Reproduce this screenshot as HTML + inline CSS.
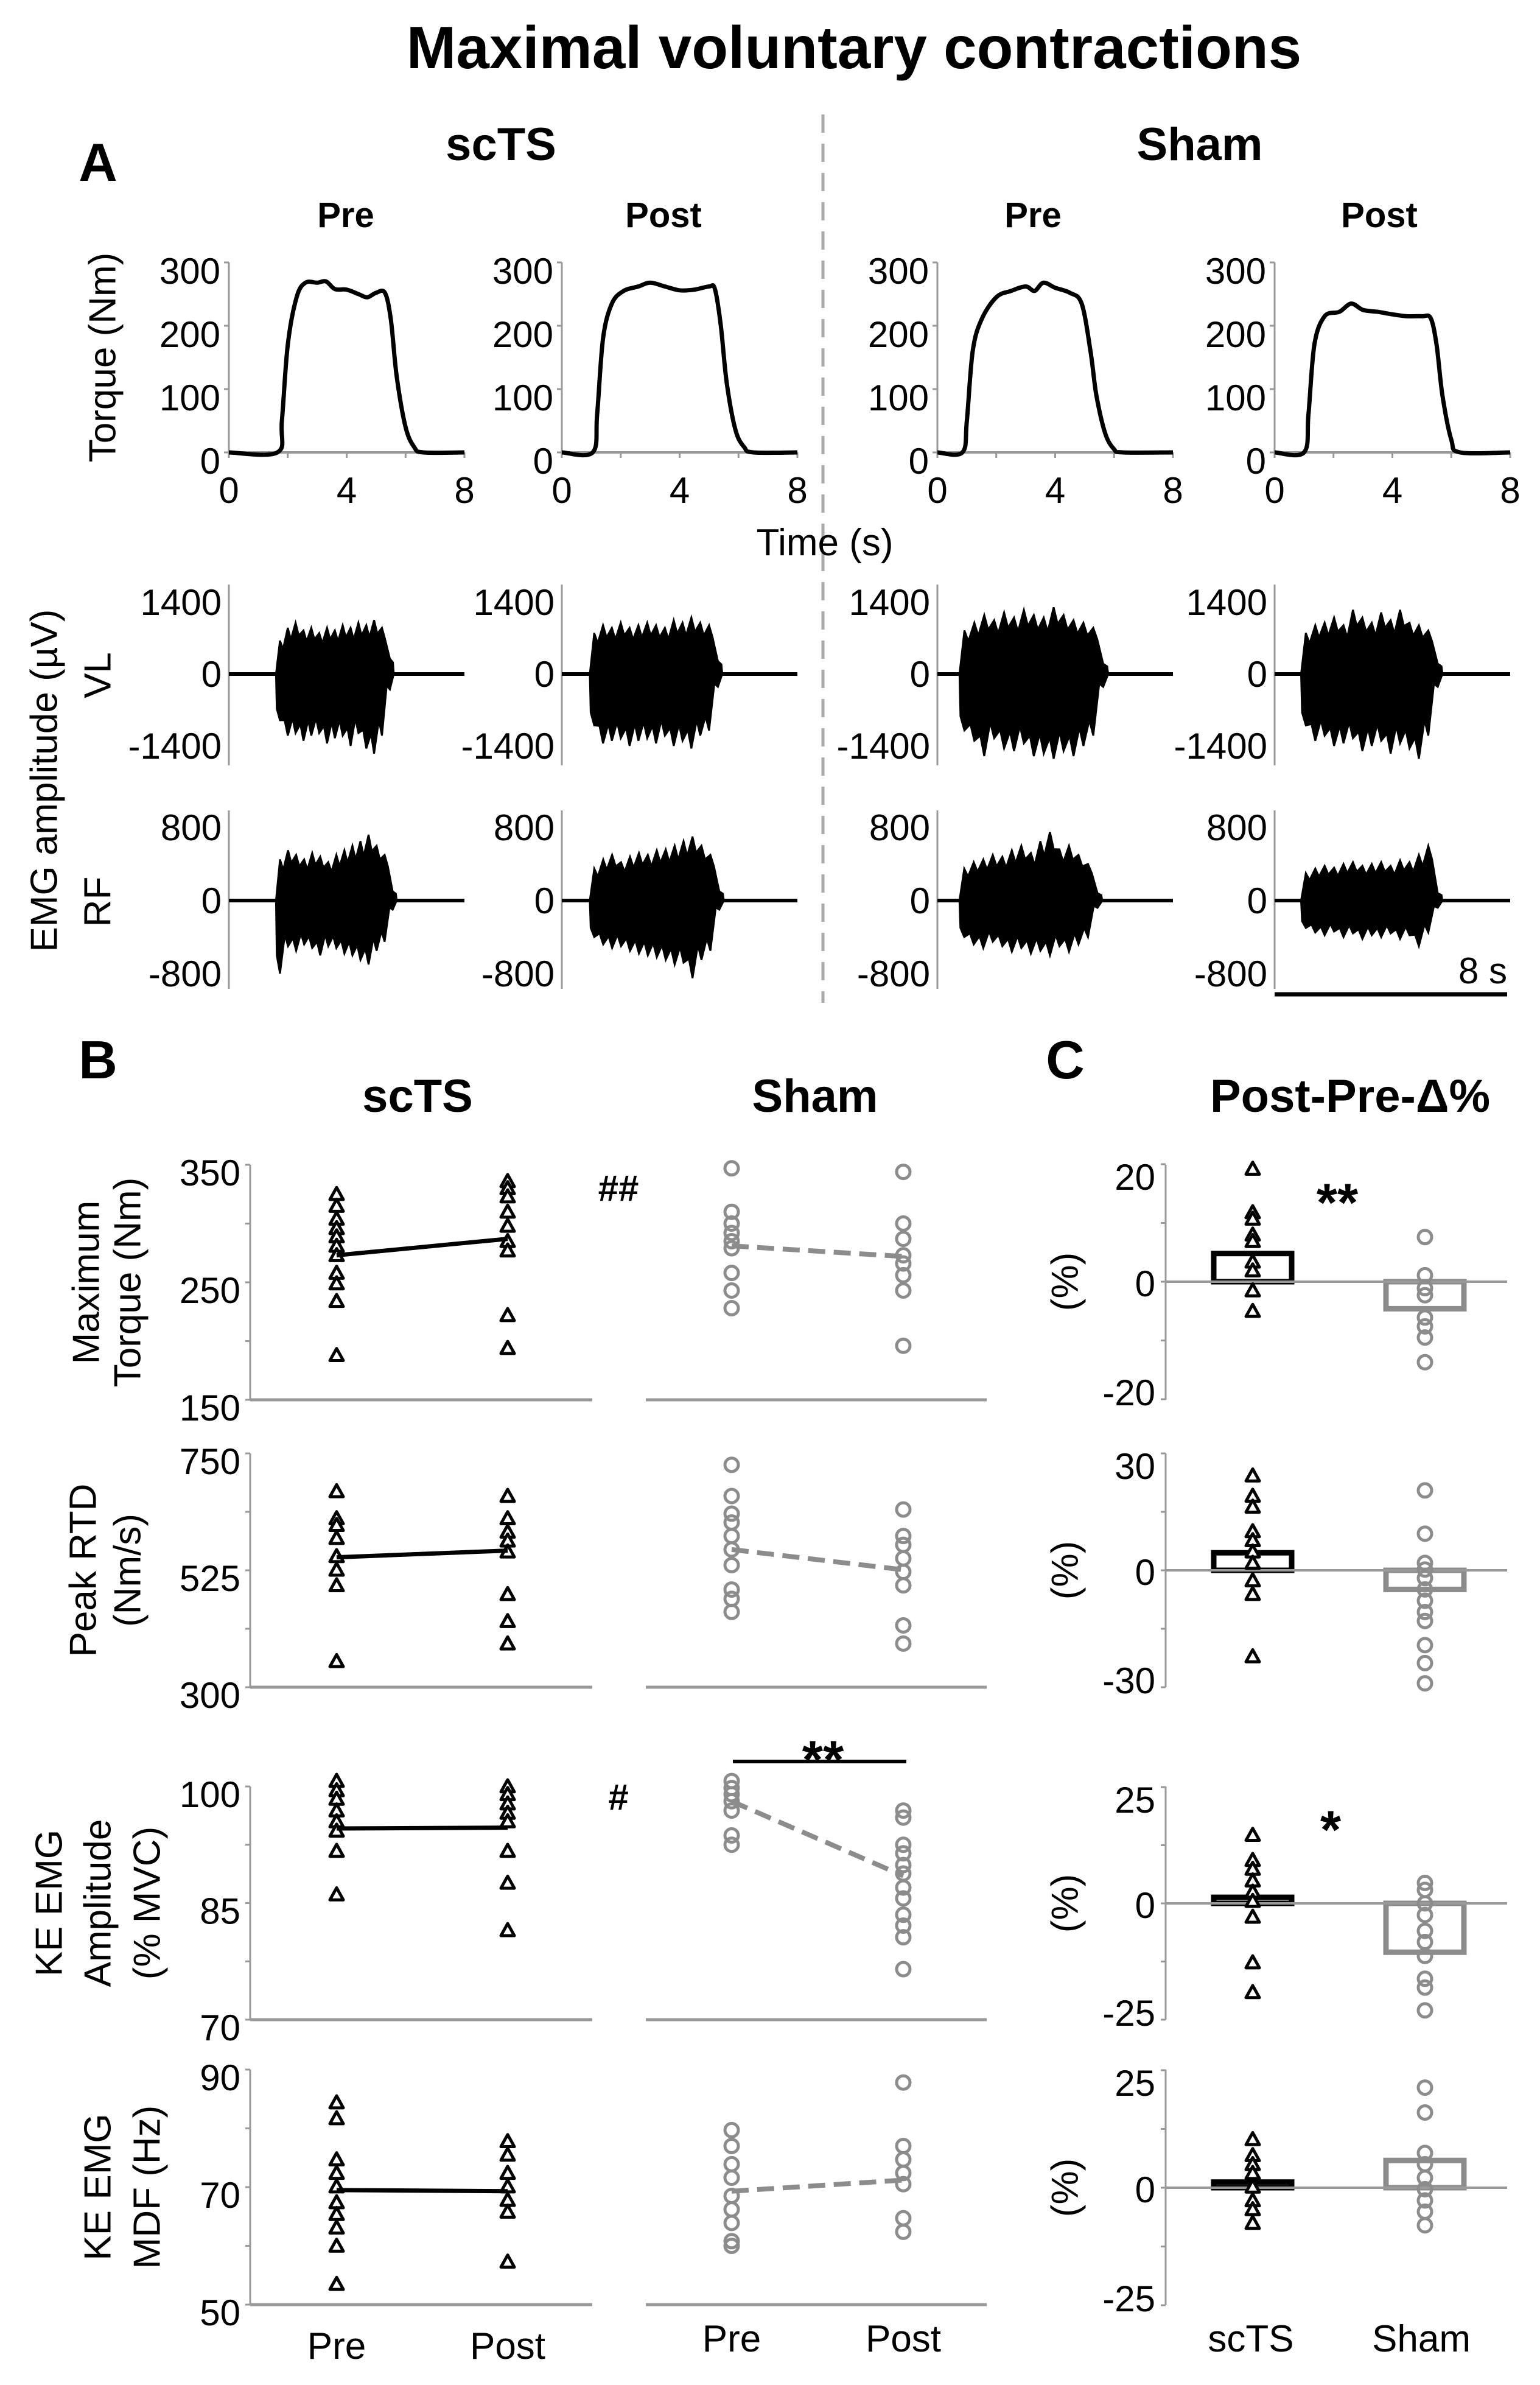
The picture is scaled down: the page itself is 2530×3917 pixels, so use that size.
<!DOCTYPE html>
<html><head><meta charset="utf-8">
<style>
html,body{margin:0;padding:0;background:#fff;}
svg{display:block;font-family:"Liberation Sans",Arial,sans-serif;}
</style></head>
<body>
<svg id="chart" xmlns="http://www.w3.org/2000/svg" width="2530" height="3917" viewBox="0 0 2530 3917">
<rect x="0" y="0" width="2530" height="3917" fill="#fff"/>
</svg>
<script>
// ---------- DATA ----------
const tq1T=[0,1.65,1.8,2.0,2.3,2.6,3.0,3.3,3.6,4.0,4.4,4.7,5.0,5.3,5.5,5.7,6.0,6.3,6.6,8];
const tq1V=[0,0,50,170,245,268,268,270,258,257,250,245,252,252,210,120,40,8,0,0];
const tq2T=[0,1.05,1.2,1.4,1.7,2.1,2.6,3.0,3.5,4.0,4.5,5.0,5.2,5.4,5.6,5.9,6.2,6.5,8];
const tq2V=[0,0,60,180,235,255,262,268,262,256,257,262,258,200,110,35,8,0,0];
const tq3T=[0,0.85,1.0,1.2,1.5,2.0,2.5,3.0,3.3,3.6,4.0,4.5,4.9,5.2,5.4,5.7,6.0,6.3,8];
const tq3V=[0,0,50,160,210,245,255,262,255,268,260,252,235,160,90,30,5,0,0];
const tq4T=[0,1.0,1.15,1.35,1.7,2.2,2.6,3.0,3.5,4.0,4.5,5.0,5.3,5.5,5.7,6.0,6.3,8];
const tq4V=[0,0,60,170,215,222,235,225,222,218,215,215,212,170,90,20,0,0];
const vlStart=[1.6,0.95,0.75,0.9];
const vlEnd=[5.6,5.45,5.8,5.7];
const vlUp1=[650,900,1000,850,900,800,900,850,950,900,1000,950,1050,900,300];
const vlDn1=[-900,-1200,-1150,-1300,-1200,-1150,-1350,-1250,-1200,-1400,-1150,-1450,-1550,-1200,-300];
const vlUp2=[800,950,900,1000,900,950,1000,950,900,1050,1000,1100,1000,950,250];
const vlDn2=[-1000,-1350,-1300,-1250,-1400,-1300,-1250,-1350,-1200,-1400,-1300,-1450,-1200,-1100,-250];
const vlUp3=[850,1000,1150,1050,1200,1100,1250,1150,1100,1300,1150,1050,1000,900,200];
const vlDn3=[-1100,-1300,-1600,-1250,-1450,-1500,-1350,-1600,-1550,-1650,-1500,-1600,-1400,-1200,-250];
const vlUp4=[800,950,1000,1100,950,1250,1100,1000,1200,1050,1250,1000,950,850,200];
const vlDn4=[-1000,-1300,-1200,-1400,-1350,-1250,-1500,-1400,-1300,-1550,-1350,-1450,-1650,-1200,-250];
const rfStart=[1.6,0.95,0.75,0.9];
const rfEnd=[5.7,5.5,5.6,5.7];
const rfUp1=[450,550,500,450,520,480,420,500,550,600,650,720,600,500,100];
const rfDn1=[-800,-500,-550,-480,-520,-600,-500,-520,-580,-600,-650,-700,-550,-450,-100];
const rfUp2=[350,450,500,420,480,520,500,550,560,600,650,700,600,500,100];
const rfDn2=[-400,-480,-520,-500,-550,-580,-600,-620,-650,-700,-680,-850,-650,-550,-100];
const rfUp3=[350,420,450,500,480,550,600,520,650,750,560,600,500,400,80];
const rfDn3=[-400,-480,-520,-450,-500,-560,-520,-580,-550,-600,-500,-560,-480,-400,-80];
const rfUp4=[300,350,380,360,400,420,380,400,420,380,440,420,500,600,80];
const rfDn4=[-300,-350,-380,-340,-400,-360,-420,-380,-400,-360,-420,-380,-500,-350,-80];
const torqueScPre=[325,315,304,296,289,281,273,258,249,234,188];
const torqueScPost=[336,330,323,310,298,285,277,222,194];
const torqueShPre=[347,310,300,292,285,279,258,243,228];
const torqueShPost=[344,300,287,273,266,256,243,196];
const torqueMeans=[273,287,281,272];
const rtdScPre=[677,625,612,587,552,526,496,350];
const rtdScPost=[668,625,599,582,561,479,427,384];
const rtdShPre=[728,668,634,617,591,565,535,488,470,445];
const rtdShPost=[642,591,574,548,522,496,419,384];
const rtdMeans=[550,563,565,526];
const ampScPre=[100.7,99.5,98.4,96.9,95.5,94.3,91.7,86.1];
const ampScPost=[100,99,97.8,96.6,95.5,91.7,87.6,81.5];
const ampShPre=[100.7,99.8,99,98.1,96.9,93.7,92.5];
const ampShPost=[96.9,96,92.5,91.4,89.9,88.8,87,85.6,83.5,82.1,80.6,76.5];
const ampMeans=[94.6,94.7,98.1,88.5];
const mdfScPre=[84.4,81.7,74.7,72.4,70.1,67.4,65.4,63.1,60,53.5];
const mdfScPost=[77.8,75.5,72.4,70.1,67.8,65.8,57.3];
const mdfShPre=[79.7,77,73.9,71.6,68.5,66.2,63.9,60.8,60];
const mdfShPost=[87.8,77,74.7,72.4,70.5,64.7,62.4];
const mdfMeans=[69.5,69.3,69.3,71.2];
const dTorqueSc=[19.2,11.8,10.7,8,6.9,3.4,1.9,-1.5,-5];
const dTorqueSh=[7.6,1.1,-1.1,-2.3,-6.1,-7.6,-9.5,-13.7];
const dRtdSc=[24.3,19.1,16.3,10,7.7,4.8,1.9,-2.6,-6.1,-22.1];
const dRtdSh=[20.5,9.4,1.9,0.2,-2,-4.9,-7.8,-10.7,-13,-19.2,-23.8,-29];
const dAmpSc=[14.7,9.3,7.4,4.9,2.5,0.5,-2.9,-12.7,-19.1];
const dAmpSh=[4.4,2.9,0,-2.5,-5.9,-8.3,-11.3,-16.2,-18.1,-23];
const dMdfSc=[10.3,6.9,5,3.1,0.2,-2.7,-4.6,-7.5];
const dMdfSh=[21.3,16,7.4,5,2.1,-0.3,-2.7,-5.1,-8];
const barMeansTorque=[4.8,-4.6];
const barMeansRtd=[4.5,-4.9];
const barMeansAmp=[1.3,-10.5];
const barMeansMdf=[1.2,5.8];
const torqueTicks=[0,100,200,300];
const timeTicks=[0,4,8];
const vlTicks=[1400,0,-1400];
const rfTicks=[800,0,-800];

// ---------- helpers ----------
const NS='http://www.w3.org/2000/svg';
const svg=document.getElementById('chart');
const GRAY='#8c8c8c', AX='#999';
function mk(tag,attrs,parent){const e=document.createElementNS(NS,tag);for(const k in attrs)e.setAttribute(k,attrs[k]);(parent||svg).appendChild(e);return e;}
function tx(str,x,y,size,weight,anchor,parent){const e=mk('text',{x:x,y:y,'font-size':size,'font-weight':weight||'normal','text-anchor':anchor||'middle',fill:'#000'},parent);e.textContent=str;return e;}
function rtx(str,x,y,size,parent){const e=mk('text',{x:0,y:0,'font-size':size,'text-anchor':'middle','dominant-baseline':'central',transform:'translate('+x+','+y+') rotate(-90)',fill:'#000'},parent);e.textContent=str;return e;}
function smoothPath(pts){
  let d='M'+pts[0][0].toFixed(1)+','+pts[0][1].toFixed(1);
  for(let i=0;i<pts.length-1;i++){
    const p0=pts[Math.max(i-1,0)],p1=pts[i],p2=pts[i+1],p3=pts[Math.min(i+2,pts.length-1)];
    const c1=[p1[0]+(p2[0]-p0[0])/6,p1[1]+(p2[1]-p0[1])/6];
    const c2=[p2[0]-(p3[0]-p1[0])/6,p2[1]-(p3[1]-p1[1])/6];
    d+='C'+c1[0].toFixed(1)+','+c1[1].toFixed(1)+' '+c2[0].toFixed(1)+','+c2[1].toFixed(1)+' '+p2[0].toFixed(1)+','+p2[1].toFixed(1);
  }
  return d;
}
let e;

// ---------- titles ----------
e=tx('Maximal voluntary contractions',1403,112,98,'bold');


e=tx('A',161,297,88,'bold');


e=tx('scTS',823,263,76,'bold');


e=tx('Sham',1971,263,76,'bold');


const prePostX=[568,1090,1697,2266];
const prePostT=['Pre','Post','Pre','Post'];
for(let i=0;i<4;i++){
  e=tx(prePostT[i],prePostX[i],373,58,'bold');
  
  
}
e=mk('line',{x1:1352,y1:188,x2:1352,y2:1647,stroke:'#aaa','stroke-width':5,'stroke-dasharray':'30,18'});



// ---------- Panel A torque ----------
const px0=[376,923,1540,2094];
const PW=387;
function tX(p,t){return px0[p]+t/8*PW;}
function tqY(v){return 743-v*312/300;}
const tqT=[tq1T,tq2T,tq3T,tq4T], tqV=[tq1V,tq2V,tq3V,tq4V];
for(let p=0;p<4;p++){
  const g=mk('g',{});
  
  
  e=mk('line',{x1:px0[p],y1:tqY(300),x2:px0[p],y2:743,stroke:AX,'stroke-width':3},g);
  
  
  torqueTicks.forEach(v=>{
    e=mk('line',{x1:px0[p]-8,y1:tqY(v),x2:px0[p],y2:tqY(v),stroke:AX,'stroke-width':3},g);
    
    
    e=tx(String(v),px0[p]-14,tqY(v)+35,60,'normal','end',g);
    
    
  });
  e=mk('line',{x1:px0[p],y1:743,x2:px0[p]+PW,y2:743,stroke:AX,'stroke-width':4},g);
  
  
  for(let t=0;t<=8;t+=2){
    e=mk('line',{x1:tX(p,t),y1:743,x2:tX(p,t),y2:752,stroke:AX,'stroke-width':3},g);
    
    
  }
  timeTicks.forEach(t=>{
    e=tx(String(t),tX(p,t),826,60,'normal','middle',g);
    
    
  });
  const pts=tqT[p].map((t,i)=>[tX(p,t),tqY(tqV[p][i])]);
  e=mk('path',{d:smoothPath(pts),fill:'none',stroke:'#000','stroke-width':7,'stroke-linejoin':'round'},g);
  
  
}
e=rtx('Torque (Nm)',169,587,62);


e=tx('Time (s)',1355,912,62);



// ---------- EMG ----------
function drawEmg(p,zeroY,scale,axTop,axBot,ticks,tStart,tEnd,up,dn,name){
  const g=mk('g',{});
  
  
  e=mk('line',{x1:px0[p],y1:axTop,x2:px0[p],y2:axBot,stroke:AX,'stroke-width':3},g);
  
  
  ticks.forEach(v=>{
    e=tx(String(v),px0[p]-12,zeroY-v*scale+21,60,'normal','end',g);
    
    
  });
  e=mk('line',{x1:px0[p],y1:zeroY,x2:px0[p]+PW,y2:zeroY,stroke:'#000','stroke-width':6},g);
  
  
  const n=up.length;
  let pts=[[tX(p,tStart),zeroY]];
  for(let i=0;i<n;i++){
    const t=tStart+(i+0.5)/n*(tEnd-tStart);
    const t2=tStart+(i+0.9)/n*(tEnd-tStart);
    pts.push([tX(p,t),zeroY-up[i]*scale]);
    pts.push([tX(p,t2),zeroY-up[i]*0.75*scale]);
  }
  pts.push([tX(p,tEnd),zeroY]);
  for(let i=n-1;i>=0;i--){
    const t=tStart+(i+0.5)/n*(tEnd-tStart);
    const t2=tStart+(i+0.1)/n*(tEnd-tStart);
    pts.push([tX(p,t),zeroY-dn[i]*scale]);
    pts.push([tX(p,t2),zeroY-dn[i]*0.75*scale]);
  }
  e=mk('polygon',{points:pts.map(q=>q[0].toFixed(1)+','+q[1].toFixed(1)).join(' '),fill:'#000',stroke:'#000','stroke-width':3},g);
  
  
}
const vlUps=[vlUp1,vlUp2,vlUp3,vlUp4], vlDns=[vlDn1,vlDn2,vlDn3,vlDn4];
const rfUps=[rfUp1,rfUp2,rfUp3,rfUp4], rfDns=[rfDn1,rfDn2,rfDn3,rfDn4];
for(let p=0;p<4;p++){
  drawEmg(p,1107,118/1400,960,1257,vlTicks,vlStart[p],vlEnd[p],vlUps[p],vlDns[p],'vl');
  drawEmg(p,1479,120/800,1331,1624,rfTicks,rfStart[p],rfEnd[p],rfUps[p],rfDns[p],'rf');
}
e=rtx('EMG amplitude (µV)',73,1282,62);


e=rtx('VL',161,1109,62);


e=rtx('RF',161,1481,62);


e=mk('line',{x1:2094,y1:1633,x2:2476,y2:1633,stroke:'#000','stroke-width':7});


e=tx('8 s',2436,1615,60);



// ---------- Panel B ----------
e=tx('B',161,1771,88,'bold');


e=tx('C',1750,1771,88,'bold');


e=tx('scTS',686,1826,76,'bold');


e=tx('Sham',1339,1826,76,'bold');


e=tx('Post-Pre-Δ%',2218,1826,76,'bold');



const BX=[553,834,1202,1484];
function tri(x,y,g){
  const s=11;
  e=mk('polygon',{points:(x)+','+(y-s)+' '+(x+s)+','+(y+s*0.8)+' '+(x-s)+','+(y+s*0.8),fill:'#fff',stroke:'#000','stroke-width':5,'stroke-linejoin':'round'},g);
  
  
}
function circ(x,y,g){
  e=mk('circle',{cx:x,cy:y,r:11,fill:'none',stroke:GRAY,'stroke-width':5},g);
  
  
}
function drawB(cfg){
  const yv=v=>cfg.yTop+(cfg.max-v)/(cfg.max-cfg.min)*(cfg.yBot-cfg.yTop);
  const g=mk('g',{});
  
  
  e=mk('line',{x1:411,y1:cfg.yTop,x2:411,y2:cfg.yBot,stroke:AX,'stroke-width':3},g);
  
  
  cfg.minor.forEach(v=>{
    e=mk('line',{x1:403,y1:yv(v),x2:411,y2:yv(v),stroke:AX,'stroke-width':3},g);
    
    
  });
  cfg.labels.forEach(v=>{
    e=tx(String(v),395,yv(v)+34,60,'normal','end',g);
    
    
  });
  e=mk('line',{x1:411,y1:cfg.yBot,x2:973,y2:cfg.yBot,stroke:AX,'stroke-width':5},g);
  
  
  e=mk('line',{x1:1061,y1:cfg.yBot,x2:1621,y2:cfg.yBot,stroke:AX,'stroke-width':5},g);
  
  
  cfg.scPre.forEach(v=>tri(BX[0],yv(v),g));
  cfg.scPost.forEach(v=>tri(BX[1],yv(v),g));
  cfg.shPre.forEach(v=>circ(BX[2],yv(v),g));
  cfg.shPost.forEach(v=>circ(BX[3],yv(v),g));
  e=mk('line',{x1:BX[0],y1:yv(cfg.means[0]),x2:BX[1],y2:yv(cfg.means[1]),stroke:'#000','stroke-width':7},g);
  
  
  e=mk('line',{x1:BX[2],y1:yv(cfg.means[2]),x2:BX[3],y2:yv(cfg.means[3]),stroke:GRAY,'stroke-width':8,'stroke-dasharray':'28,14'},g);
  
  
  cfg.title.forEach((s,i)=>{
    e=rtx(s,cfg.titleX[i],(cfg.yTop+cfg.yBot)/2,62,g);
    
    
  });
}
drawB({name:'torque',yTop:1913,yBot:2299,min:150,max:350,minor:[150,200,250,300,350],labels:[150,250,350],
  scPre:torqueScPre,scPost:torqueScPost,shPre:torqueShPre,shPost:torqueShPost,means:torqueMeans,title:['Maximum','Torque (Nm)'],titleX:[142,210]});
drawB({name:'rtd',yTop:2387,yBot:2771,min:300,max:750,minor:[300,412.5,525,637.5,750],labels:[300,525,750],
  scPre:rtdScPre,scPost:rtdScPost,shPre:rtdShPre,shPost:rtdShPost,means:rtdMeans,title:['Peak RTD','(Nm/s)'],titleX:[137,210]});
drawB({name:'emg-amplitude',yTop:2934,yBot:3317,min:70,max:100,minor:[70,77.5,85,92.5,100],labels:[70,85,100],
  scPre:ampScPre,scPost:ampScPost,shPre:ampShPre,shPost:ampShPost,means:ampMeans,title:['KE EMG','Amplitude','(% MVC)'],titleX:[81,161,242]});
drawB({name:'emg-mdf',yTop:3399,yBot:3785,min:50,max:90,minor:[50,60,70,80,90],labels:[50,70,90],
  scPre:mdfScPre,scPost:mdfScPost,shPre:mdfShPre,shPost:mdfShPost,means:mdfMeans,title:['KE EMG','MDF (Hz)'],titleX:[161,242]});

const xl=[['Pre',553,3874],['Post',834,3874],['Pre',1202,3862],['Post',1484,3862]];
xl.forEach(a=>{
  e=tx(a[0],a[1],a[2],62);
  
  
});
e=tx('##',1016,1972,60,'bold');


e=tx('#',1016,2972,60,'bold');


e=mk('line',{x1:1204,y1:2893,x2:1489,y2:2893,stroke:'#000','stroke-width':6});


e=tx('**',1352,2920,88,'bold');



// ---------- Panel C ----------
const CX=[2058,2341];
function drawC(cfg){
  const yv=v=>cfg.y0-v*cfg.s;
  const g=mk('g',{});
  
  
  e=mk('line',{x1:1915,y1:cfg.top,x2:1915,y2:cfg.bot,stroke:AX,'stroke-width':3},g);
  
  
  cfg.minor.forEach(v=>{
    e=mk('line',{x1:1907,y1:yv(v),x2:1915,y2:yv(v),stroke:AX,'stroke-width':3},g);
    
    
  });
  cfg.labels.forEach(v=>{
    e=tx(String(v),1898,yv(v)+(v>0?42:v<0?10:24),60,'normal','end',g);
    
    
  });
  e=rtx('(%)',1750,cfg.y0,62,g);
  
  
  [0,1].forEach(k=>{
    const v=cfg.bars[k];
    const y1=Math.min(yv(0),yv(v)), h=Math.abs(yv(v)-yv(0));
    e=mk('rect',{x:CX[k]-64,y:y1,width:128,height:Math.max(h,2),fill:'#fff',stroke:k?GRAY:'#000','stroke-width':9},g);
    
    
  });
  e=mk('line',{x1:1915,y1:cfg.y0,x2:2476,y2:cfg.y0,stroke:AX,'stroke-width':4},g);
  
  
  cfg.sc.forEach(v=>tri(CX[0],yv(v),g));
  cfg.sh.forEach(v=>circ(CX[1],yv(v),g));
}
drawC({name:'torque',y0:2105,s:193/20,top:1913,bot:2299,minor:[-20,-10,0,10,20],labels:[-20,0,20],sc:dTorqueSc,sh:dTorqueSh,bars:barMeansTorque});
drawC({name:'rtd',y0:2579,s:192/30,top:2387,bot:2771,minor:[-30,-15,0,15,30],labels:[-30,0,30],sc:dRtdSc,sh:dRtdSh,bars:barMeansRtd});
drawC({name:'emg-amplitude',y0:3126,s:191/25,top:2934,bot:3317,minor:[-25,-12.5,0,12.5,25],labels:[-25,0,25],sc:dAmpSc,sh:dAmpSh,bars:barMeansAmp});
drawC({name:'emg-mdf',y0:3593,s:193/25,top:3399,bot:3785,minor:[-25,-12.5,0,12.5,25],labels:[-25,0,25],sc:dMdfSc,sh:dMdfSh,bars:barMeansMdf});
e=tx('**',2197,2005,88,'bold');


e=tx('*',2186,3035,88,'bold');


e=tx('scTS',2055,3862,62);


e=tx('Sham',2335,3862,62);


</script>
</body></html>
